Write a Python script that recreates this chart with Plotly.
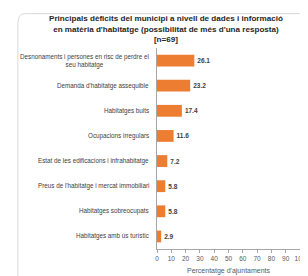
import plotly.graph_objects as go

categories = [
    "Desnonaments i persones en risc de perdre el<br>seu habitatge",
    "Demanda d'habitatge assequible",
    "Habitatges buits",
    "Ocupacions irregulars",
    "Estat de les edificacions i infrahabitatge",
    "Preus de l'habitatge i mercat immobiliari",
    "Habitatges sobreocupats",
    "Habitatges amb ús turístic",
]
values = [26.1, 23.2, 17.4, 11.6, 7.2, 5.8, 5.8, 2.9]
value_labels = ["26.1", "23.2", "17.4", "11.6", "7.2", "5.8", "5.8", "2.9"]
x_ticks = [0, 10, 20, 30, 40, 50, 60, 70, 80, 90, 100]

title_text = ("Principals dèficits del municipi a nivell de dades i informació<br>"
              "en matèria d'habitatge (possibilitat de més d'una resposta)<br>[n=69]")
x_title = "Percentatge d'ajuntaments"

FONT = "Liberation Sans"
fig = go.Figure()
fig.add_trace(go.Bar(
    x=values, y=list(range(len(categories))), orientation="h",
    marker=dict(color="#ED7D31", line=dict(width=0)),
    text=["<b>" + v + "</b>" for v in value_labels], textposition="outside",
    cliponaxis=False,
    textfont=dict(family=FONT, size=6.5, color="#404040"),
    width=0.47,
))

for i, c in enumerate(categories):
    fig.add_annotation(x=-0.04, xref="paper", y=i, yref="y", text=c,
                       showarrow=False, xanchor="right", align="center",
                       font=dict(family=FONT, size=6.3, color="#404040"))

fig.add_annotation(x=0.06, xref="paper", y=1.178, yref="paper", yanchor="top",
                   text="<b>" + title_text + "</b>", showarrow=False,
                   xanchor="center", align="center",
                   font=dict(family=FONT, size=8.1, color="#262626"))

# frame: left and top with rounded top-left corner
fig.add_shape(type="path", xref="paper", yref="paper",
              path="M -0.973,-0.2 L -0.973,1.12 Q -0.973,1.171 -0.926,1.171 L 1.2,1.171",
              line=dict(color="#D9D9D9", width=1))

fig.update_layout(
    width=308, height=276,
    margin=dict(l=149, r=10, t=40, b=31),
    paper_bgcolor="white", plot_bgcolor="white",
    showlegend=False,
    xaxis=dict(range=[0, 100], tickvals=x_ticks, ticks="outside", ticklen=3,
               tickcolor="#A6A6A6", showline=True, linecolor="#A6A6A6",
               showgrid=False, zeroline=False,
               tickfont=dict(family=FONT, size=6.5, color="#595959"),
               title=dict(text=x_title, standoff=7,
                          font=dict(family=FONT, size=7, color="#595959"))),
    yaxis=dict(range=[7.5, -0.5], showticklabels=False, showline=True,
               linecolor="#A6A6A6", showgrid=False, zeroline=False, ticks=""),
)
fig.write_html("out.html")
